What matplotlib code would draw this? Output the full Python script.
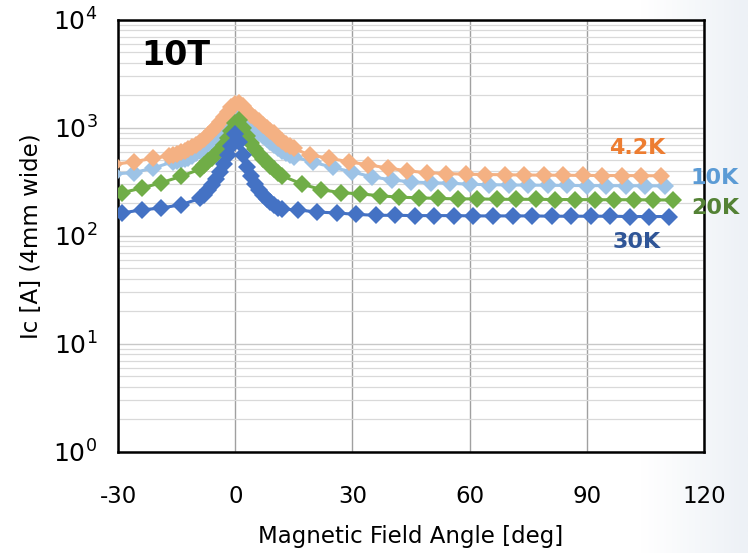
import numpy as np
import matplotlib
matplotlib.use("Agg")
import matplotlib.pyplot as plt
from matplotlib.ticker import LogLocator, FixedLocator

plt.rcParams["axes.unicode_minus"] = False

# magnetic field angle [deg] and Ic [A] for each temperature
ang_42 = [-31, -26, -21, -17, -16, -15, -14, -13, -12, -11, -10, -9, -8, -7, -6, -5,
          -4, -3, -2, -1, 0, 1, 2, 3, 4, 5, 6, 7, 8, 9, 10, 11, 12, 13, 14, 15,
          19, 24, 29, 34, 39, 44, 49, 54, 59, 64, 69, 74, 79, 84, 89, 94, 99, 104, 109]
ic_42 = [460, 485, 525, 550, 562, 575, 596, 617, 631, 661, 700, 741, 794, 851, 933, 1023,
         1122, 1259, 1413, 1549, 1679, 1718, 1585, 1445, 1318, 1230, 1148, 1072, 1000, 933,
         891, 813, 759, 716, 676, 645,
         560, 525, 485, 455, 425, 400, 385, 378, 372, 370, 368, 366, 365, 364, 363, 362,
         362, 361, 360]

ang_10 = [-31, -26, -21, -16, -15, -14, -13, -12, -11, -10, -9, -8, -7, -6, -5, -4, -3,
          -2, -1, 0, 1, 2, 3, 4, 5, 6, 7, 8, 9, 10, 11, 12, 13, 14, 15,
          20, 25, 30, 35, 40, 45, 50, 55, 60, 65, 70, 75, 80, 85, 90, 95, 100, 105, 110]
ic_10 = [375, 385, 425, 485, 490, 500, 515, 530, 550, 580, 615, 655, 705, 765, 830, 910,
         1000, 1100, 1200, 1290, 1300, 1220, 1120, 1040, 970, 900, 840, 785, 735, 690,
         650, 615, 585, 560, 540,
         480, 430, 390, 352, 330, 316, 310, 308, 300, 298, 296, 295, 294, 293, 292, 292,
         291, 291, 290]

ang_20 = [-29, -24, -19, -14, -9, -8, -7, -6, -5, -4, -3, -2, -1, 0, 1, 2, 3, 4, 5, 6,
          7, 8, 9, 10, 11, 12,
          17, 22, 27, 32, 37, 42, 47, 52, 57, 62, 67, 72, 77, 82, 87, 92, 97, 102, 107, 112]
ic_20 = [251, 277, 310, 355, 415, 455, 490, 525, 570, 630, 700, 800, 930, 1100, 1180,
         1000, 850, 730, 640, 570, 520, 480, 445, 415, 385, 360,
         302, 268, 251, 245, 235, 228, 225, 222, 220, 220, 218, 218, 218, 217, 217, 216,
         216, 216, 215, 215]

ang_30 = [-29, -24, -19, -14, -9, -8, -7, -6, -5, -4, -3, -2, -1, 0, 1, 2, 3, 4, 5, 6,
          7, 8, 9, 10, 11, 12,
          16, 21, 26, 31, 36, 41, 46, 51, 56, 61, 66, 71, 76, 81, 86, 91, 96, 101, 106, 111]
ic_30 = [163, 174, 181, 194, 222, 240, 265, 295, 335, 390, 460, 560, 680, 880, 740,
         560, 430, 355, 305, 265, 240, 220, 205, 192, 182, 177,
         174, 166, 163, 158, 155, 155, 154, 154, 154, 153, 153, 153, 153, 152, 152, 152,
         152, 151, 151, 151]

x_ticks = [-30, 0, 30, 60, 90, 120]

fig = plt.figure(figsize=(7.48, 5.53), dpi=100)

# faint slide background on the right edge
bg = fig.add_axes([0, 0, 1, 1], zorder=-10)
grad = np.linspace(0, 1, 256)
grad = np.clip((grad - 0.86) / 0.14, 0, 1)[None, :]
bg.imshow(grad, aspect="auto", extent=[0, 1, 0, 1],
          cmap=matplotlib.colors.LinearSegmentedColormap.from_list("g", ["#ffffff", "#edf1f6"]))
bg.axis("off")

ax = fig.add_axes([0.158, 0.183, 0.783, 0.781])

# plot order: later series sit on top
series = [
    (ang_10, ic_10, "#9DC3E6"),
    (ang_42, ic_42, "#F4B183"),
    (ang_20, ic_20, "#70AD47"),
    (ang_30, ic_30, "#4472C4"),
]
for xs, ys, col in series:
    ax.plot(xs, ys, color=col, lw=2.2, marker="D", ms=9.6, mew=0, zorder=3)

ax.set_yscale("log")
ax.set_xlim(-30, 120)
ax.set_ylim(1, 1e4)
ax.xaxis.set_major_locator(FixedLocator(x_ticks))
ax.yaxis.set_major_locator(LogLocator(base=10, numticks=10))
ax.yaxis.set_minor_locator(LogLocator(base=10, subs=np.arange(2, 10), numticks=10))

ax.grid(which="major", axis="x", color="#a0a0a0", lw=1.0)
ax.grid(which="major", axis="y", color="#c8c8c8", lw=1.0)
ax.grid(which="minor", axis="y", color="#d9d9d9", lw=0.9)
ax.set_axisbelow(True)

for s in ax.spines.values():
    s.set_color("black")
    s.set_linewidth(1.8)

ax.tick_params(which="both", length=0)
ax.tick_params(axis="x", labelsize=16.5, pad=24)
ax.tick_params(axis="y", labelsize=18, pad=15)

ax.set_xlabel("Magnetic Field Angle [deg]", fontsize=16.5, labelpad=12)
ax.set_ylabel("Ic [A] (4mm wide)", fontsize=16.5, labelpad=7)

ax.text(0.04, 0.955, "10T", transform=ax.transAxes, fontsize=24, fontweight="bold",
        va="top", ha="left")

# temperature labels
fig.text(637 / 748, 1 - 148 / 553, "4.2K", color="#ED7D31", fontsize=16, fontweight="bold",
         ha="center", va="center")
fig.text(715 / 748, 1 - 178 / 553, "10K", color="#5B9BD5", fontsize=16, fontweight="bold",
         ha="center", va="center")
fig.text(715 / 748, 1 - 208 / 553, "20K", color="#548235", fontsize=16, fontweight="bold",
         ha="center", va="center")
fig.text(637 / 748, 1 - 242 / 553, "30K", color="#2F5597", fontsize=16, fontweight="bold",
         ha="center", va="center")

fig.savefig("out.png", dpi=100)
